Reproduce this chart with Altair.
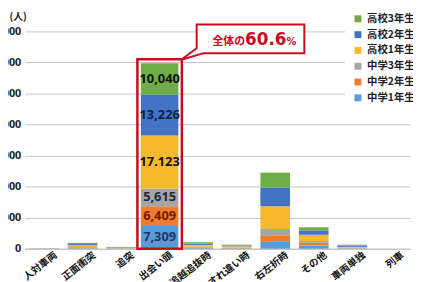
import altair as alt
import pandas as pd

# ---------------- data ----------------
categories = ["人対車両", "正面衝突", "追突", "出会い頭", "追越追抜時",
              "すれ違い時", "右左折時", "その他", "車両単独", "列車"]
grades = ["中学1年生", "中学2年生", "中学3年生", "高校1年生", "高校2年生", "高校3年生"]  # bottom -> top

chu1 = [30, 150, 60, 7309, 200, 120, 2230, 1000, 80, 5]
chu2 = [20, 150, 60, 6409, 200, 120, 1900, 900, 80, 5]
chu3 = [20, 250, 80, 5615, 250, 150, 2230, 600, 150, 5]
kou1 = [30, 600, 150, 17123, 600, 400, 7320, 2000, 300, 5]
kou2 = [30, 350, 130, 13226, 450, 280, 6050, 1400, 350, 5]
kou3 = [20, 400, 120, 10040, 400, 230, 4780, 1000, 340, 5]
series = [chu1, chu2, chu3, kou1, kou2, kou3]

bar_label_texts = ["7,309", "6,409", "5,615", "17.123", "13,226", "10,040"]
highlight_category = "出会い頭"
y_ticks = [0, 10000, 20000, 30000, 40000, 50000, 60000, 70000]
callout_parts = ["全体の", "60.6", "%"]

# ---------------- styles ----------------
grade_colors = ["#5b9bd5", "#ed7d31", "#a5a5a5", "#f5b82e", "#4472c4", "#70ad47"]
label_colors = ["#1f3864", "#7a1800", "#1e2a40", "#111111", "#14213d", "#111111"]
RED = "#cc0a1e"
JP = "Noto Sans CJK JP"

rows = []
for gi, g in enumerate(grades):
    for ci, c in enumerate(categories):
        rows.append({"cat": c, "grade": g, "ord": gi, "value": series[gi][ci],
                     "label": bar_label_texts[gi], "tcolor": label_colors[gi]})
df = pd.DataFrame(rows)

x_scale = alt.Scale(paddingInner=0.2, paddingOuter=0.1)
y_scale = alt.Scale(domain=[0, 70000])

x_axis = alt.Axis(title=None, labelAngle=-38, labelFontSize=10, labelFont=JP,
                  labelFontWeight="bold", labelColor="#111111",
                  labelPadding=1, labelOffset=9, labelAlign="right",
                  labelBaseline="top", ticks=False, domainColor="#bfbfbf",
                  labelOverlap=False, grid=False)

y_axis = alt.Axis(values=y_ticks, format=",d", title="(人)", titleAngle=0,
                  titleX=-16, titleY=-15, titleAlign="left",
                  titleBaseline="middle", titleFontSize=10, titleFont=JP,
                  titleFontWeight="bold", titleColor="#222222",
                  grid=True, gridColor="#c4c4c4", domain=False, ticks=False,
                  labelPadding=4, labelFontSize=11, labelFontWeight="bold",
                  labelFont="Noto Sans", labelColor="#222222",
                  labelOverlap=False)

bars = alt.Chart(df).mark_bar().encode(
    x=alt.X("cat:N", sort=categories, scale=x_scale, axis=x_axis, title=None),
    y=alt.Y("value:Q", stack="zero", scale=y_scale, axis=y_axis, title="(人)"),
    color=alt.Color("grade:N",
                    scale=alt.Scale(domain=grades[::-1], range=grade_colors[::-1]),
                    legend=alt.Legend(title=None, orient="none", legendX=324, legendY=-26,
                                      fillColor="white", padding=8, symbolType="square",
                                      symbolSize=49, symbolStrokeWidth=0,
                                      labelFontSize=10.5, labelFont=JP,
                                      labelFontWeight="bold", labelColor="#222222",
                                      rowPadding=5)),
    order=alt.Order("ord:Q", sort="ascending"),
    size=alt.condition(alt.datum.cat == highlight_category, alt.value(38), alt.value(30)),
)

labels = alt.Chart(df).transform_stack(
    stack="value", as_=["v0", "v1"], groupby=["cat"],
    sort=[alt.SortField("ord", order="ascending")]
).transform_calculate(
    mid="(datum.v0 + datum.v1) / 2"
).transform_filter(
    alt.datum.cat == highlight_category
).mark_text(fontSize=13, fontWeight="bold", font="Noto Sans").encode(
    x=alt.X("cat:N", sort=categories, scale=x_scale, axis=x_axis, title=None),
    y=alt.Y("mid:Q", scale=y_scale, axis=y_axis, title="(人)"),
    text="label:N",
    color=alt.Color("tcolor:N", scale=None),
)

hl_df = pd.DataFrame({"cat": [highlight_category], "top": [61000]})
highlight = alt.Chart(hl_df).mark_bar(fillOpacity=0, stroke=RED, strokeWidth=2.5, size=45).encode(
    x=alt.X("cat:N", sort=categories, scale=x_scale, axis=x_axis, title=None),
    y=alt.Y("top:Q", scale=y_scale, axis=y_axis, title="(人)"),
    y2=alt.datum(0),
)

one = pd.DataFrame({"a": [0]})
box = alt.Chart(one).mark_rect(fill="white", stroke=RED, strokeWidth=2).encode(
    x=alt.value(174), x2=alt.value(283), y=alt.value(-7), y2=alt.value(22))
cover = alt.Chart(one).mark_rect(fill="white").encode(
    x=alt.value(172.9), x2=alt.value(180.5), y=alt.value(17.5), y2=alt.value(23.2))
ptr1 = alt.Chart(one).mark_rule(stroke=RED, strokeWidth=2).encode(
    x=alt.value(174), y=alt.value(17), x2=alt.value(158), y2=alt.value(29))
ptr2 = alt.Chart(one).mark_rule(stroke=RED, strokeWidth=2).encode(
    x=alt.value(158), y=alt.value(29), x2=alt.value(181), y2=alt.value(22))

t1 = alt.Chart(one).mark_text(text=callout_parts[0], font=JP, fontWeight="bold", fontSize=11,
                              color=RED, align="left", baseline="alphabetic").encode(
    x=alt.value(190), y=alt.value(14))
t2 = alt.Chart(one).mark_text(text=callout_parts[1], font="DejaVu Sans", fontWeight="bold",
                              fontSize=17, color=RED, align="left", baseline="alphabetic").encode(
    x=alt.value(223), y=alt.value(14))
t3 = alt.Chart(one).mark_text(text=callout_parts[2], font="DejaVu Sans", fontWeight="bold",
                              fontSize=10, color=RED, align="left", baseline="alphabetic").encode(
    x=alt.value(265), y=alt.value(14))

chart = alt.layer(bars, labels, highlight, box, cover, ptr1, ptr2, t1, t2, t3).properties(
    width=390, height=220,
    autosize=alt.AutoSizeParams(type="none"),
    padding={"left": 17, "top": 22, "right": 3, "bottom": 34},
    background="white",
).configure_view(stroke=None)

chart.save("out.html", embed_options={"renderer": "svg", "actions": False})
